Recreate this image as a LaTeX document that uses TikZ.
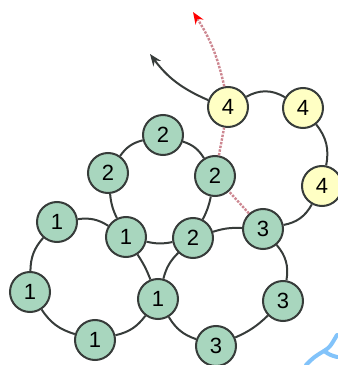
\documentclass[tikz,border=0pt]{standalone}
\usepackage{fontspec}
\setmainfont{Liberation Sans}
\usetikzlibrary{arrows.meta}
\definecolor{knude}{RGB}{168,214,190}
\definecolor{gulknude}{RGB}{255,255,196}
\definecolor{kant}{RGB}{55,60,58}
\definecolor{rute}{RGB}{205,135,145}
\definecolor{lysblaa}{RGB}{130,195,250}
\begin{document}
\begin{tikzpicture}[x=0.75pt,y=0.75pt,
	knude/.style={circle,draw=kant,line width=1.5pt,fill=knude,minimum size=30pt,inner sep=0pt,font=\fontsize{16.5}{18}\selectfont},
	gul/.style={knude,fill=gulknude},
	kant/.style={draw=kant,line width=1.5pt},
	rute/.style={draw=rute,line width=1.8pt,densely dotted}]
  %ramme
	\useasboundingbox (0,0) rectangle (337,365);

  %lag 4
	\node[gul] (f1) at (228,258) {4};
	\node[gul] (f2) at (303,257) {4};
	\node[gul] (f3) at (322,179) {4};

  %lag 2
	\node[knude] (b1) at (163,230) {2};
	\node[knude] (b2) at (108,192) {2};
	\node[knude] (b3) at (215,189) {2};
	\node[knude] (b4) at (193,127) {2};

  %lag 1
	\node[knude] (a1) at (57,143) {1};
	\node[knude] (a2) at (126,128) {1};
	\node[knude] (a3) at (30,73) {1};
	\node[knude] (a4) at (158,66) {1};
	\node[knude] (a5) at (95,25) {1};

  %lag 3
	\node[knude] (c1) at (263,136) {3};
	\node[knude] (c2) at (283,64) {3};
	\node[knude] (c3) at (216,19) {3};

  %pile-ender
	\coordinate (sort) at (150,311);
	\coordinate (roed) at (193,353);

  %kanter
	\draw[kant] (f1) to[bend left=30] (f2);
	\draw[kant] (f2) to[bend left=25] (f3);
	\draw[kant] (f3) to[bend left=25] (c1);
	\draw[kant] (c1) to[bend left=25] (c2);
	\draw[kant] (c2) to[bend left=10] (c3);
	\draw[kant] (c3) to[bend left=20] (a4);
	\draw[kant] (a4) to[bend left=20] (a5);
	\draw[kant] (a5) to[bend left=20] (a3);
	\draw[kant] (a3) to[bend left=20] (a1);
	\draw[kant] (a1) to[bend left=20] (a2);
	\draw[kant] (a2) to[bend left=6] (a4);
	\draw[kant] (a2) to[bend right=12] (b4);
	\draw[kant] (b4) to[bend right=15] (a4);
	\draw[kant] (b4) to[bend left=10] (c1);
	\draw[kant] (b4) to[bend right=8] (b3);
	\draw[kant] (b3) to[bend right=20] (b1);
	\draw[kant] (b1) to[bend right=20] (b2);
	\draw[kant] (b2) to[bend right=10] (a2);

  %pile
	\draw[kant,-{Stealth[length=9pt,width=7pt]}] (f1) to[bend left=15] (sort);
	\draw[rute] (c1) -- (b3);
	\draw[rute] (b3) -- (f1);
	\draw[rute,-{Stealth[length=9pt,width=7pt,color=red]}] (f1) to[bend right=10] (roed);

  %blaa rest
	\draw[lysblaa,line width=3pt,line cap=round] (306,0) .. controls (314,8) .. (324,14) .. controls (330,18) .. (337,30);
	\draw[lysblaa,line width=3pt,line cap=round] (324,14) .. controls (330,10) .. (337,8);
\end{tikzpicture}
\end{document}
